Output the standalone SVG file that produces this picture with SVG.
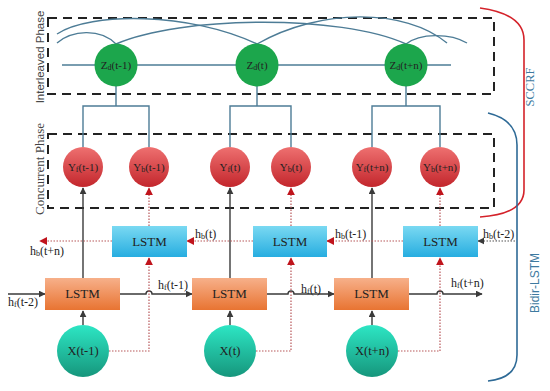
<svg xmlns="http://www.w3.org/2000/svg" width="550" height="391" viewBox="0 0 550 391">
<defs>
<linearGradient id="gRed" x1="0" y1="0" x2="0" y2="1"><stop offset="0" stop-color="#ee7070"/><stop offset="1" stop-color="#c3262c"/></linearGradient>
<linearGradient id="gTeal" x1="0" y1="0" x2="0" y2="1"><stop offset="0" stop-color="#2de6c4"/><stop offset="1" stop-color="#16967c"/></linearGradient>
<linearGradient id="gBlue" x1="0" y1="0" x2="0" y2="1"><stop offset="0" stop-color="#7ad9f2"/><stop offset="1" stop-color="#27ade0"/></linearGradient>
<linearGradient id="gOrange" x1="0" y1="0" x2="0" y2="1"><stop offset="0" stop-color="#f7b08a"/><stop offset="1" stop-color="#e87432"/></linearGradient>
<marker id="aGrey" viewBox="0 0 10 10" refX="9" refY="5" markerWidth="7" markerHeight="7" orient="auto" markerUnits="userSpaceOnUse"><path d="M0,0 L10,5 L0,10 z" fill="#3a3a3a"/></marker>
<marker id="aRed" viewBox="0 0 10 10" refX="9" refY="5" markerWidth="8" markerHeight="8" orient="auto" markerUnits="userSpaceOnUse"><path d="M0,0 L10,5 L0,10 z" fill="#c0141c"/></marker>
</defs>
<style>
.dash{fill:none;stroke:#222;stroke-width:2;stroke-dasharray:9,6}
.conn{fill:none;stroke:#4d7c96;stroke-width:1.4}
.grey{fill:none;stroke:#3a3a3a;stroke-width:1.4}
.rdot{fill:none;stroke:#b8585a;stroke-width:1.2;stroke-dasharray:1.5,1.5}
.lbl{font-family:"Liberation Serif","DejaVu Serif",serif;fill:#222;text-anchor:middle}
.nl{font-size:11px}
.ls{font-size:13px}
.hl{font-family:"Liberation Serif","DejaVu Serif",serif;fill:#222;font-size:12px}
</style>

<rect class="dash" x="48" y="18" width="446" height="76"/>
<rect class="dash" x="48" y="134" width="446" height="74"/>

<text x="44" y="57" transform="rotate(-90 44 57)" font-family="'Liberation Sans',Arial,sans-serif" font-size="11.5" fill="#444" text-anchor="middle">Interleaved Phase</text>
<text x="44" y="169" transform="rotate(-90 44 169)" font-family="'Liberation Serif',serif" font-size="13" fill="#444" text-anchor="middle">Concurrent Phase</text>

<g id="brackets">
<path d="M480,8 Q524,14 524,40 L524,190 Q524,214 480,217" fill="none" stroke="#d4222a" stroke-width="1.6"/>
<path d="M488,113 Q517,120 517,145 L517,355 Q517,378 488,381" fill="none" stroke="#2e6a96" stroke-width="1.6"/>
<text x="534" y="87" transform="rotate(-90 534 87)" font-family="'Liberation Serif',serif" font-size="12.5" fill="#3e7aa0" text-anchor="middle">SCCRF</text>
<text x="539" y="283" transform="rotate(-90 539 283)" font-family="'Liberation Sans',Arial,sans-serif" font-size="12" fill="#3e7aa0" text-anchor="middle">Bidir-LSTM</text>
</g>

<g id="connectors">
<path class="conn" d="M62,65 L451,65"/>
<path class="conn" d="M57,34 C90,12 190,12 257,44"/>
<path class="conn" d="M57,43 C72,30 100,28 116,44"/>
<path class="conn" d="M116,44 C180,16 340,14 406,44"/>
<path class="conn" d="M257,44 C320,8 405,8 447,43"/>
<path class="conn" d="M406,44 C420,33 450,33 467,43"/>
<path class="conn" d="M116,86 V106 M83,147 V106 H149 V147"/>
<path class="conn" d="M257,86 V106 M230,147 V106 H291 V147"/>
<path class="conn" d="M406,86 V106 M372,147 V106 H440 V147"/>

<path class="grey" d="M83,278 V188" marker-end="url(#aGrey)"/>
<path class="grey" d="M230,278 V188" marker-end="url(#aGrey)"/>
<path class="grey" d="M372,278 V188" marker-end="url(#aGrey)"/>
<path class="grey" d="M83,325 V311" marker-end="url(#aGrey)"/>
<path class="grey" d="M230,325 V311" marker-end="url(#aGrey)"/>
<path class="grey" d="M372,325 V311" marker-end="url(#aGrey)"/>

<path class="grey" d="M8,294 H45" marker-end="url(#aGrey)"/>
<path class="grey" d="M120,294 H146 A3,3 0 0 1 152,294 H192" marker-end="url(#aGrey)"/>
<path class="grey" d="M267,294 H288 A3,3 0 0 1 294,294 H334" marker-end="url(#aGrey)"/>
<path class="grey" d="M409,294 H437 A3,3 0 0 1 443,294 H482" marker-end="url(#aGrey)"/>

<path class="rdot" d="M109,351 H149 V258" marker-end="url(#aRed)"/>
<path class="rdot" d="M256,351 H291 V258" marker-end="url(#aRed)"/>
<path class="rdot" d="M398,351 H440 V258" marker-end="url(#aRed)"/>
<path class="rdot" d="M149,226 V188" marker-end="url(#aRed)"/>
<path class="rdot" d="M291,226 V188" marker-end="url(#aRed)"/>
<path class="rdot" d="M440,226 V188" marker-end="url(#aRed)"/>

<path class="rdot" d="M112,241 H40" marker-end="url(#aRed)"/>
<path class="rdot" d="M253,241 H187" marker-end="url(#aRed)"/>
<path class="rdot" d="M403,241 H327" marker-end="url(#aRed)"/>
<path d="M515,241 H478" fill="none" stroke="#555" stroke-width="1.2" stroke-dasharray="1.5,1.5" marker-end="url(#aGrey)"/>
</g>

<g id="labels">
<text class="hl" x="30" y="255">h<tspan font-size="8" dy="1">b</tspan><tspan dy="-1">(t+n)</tspan></text>
<text class="hl" x="195" y="238">h<tspan font-size="8" dy="1">b</tspan><tspan dy="-1">(t)</tspan></text>
<text class="hl" x="335" y="238">h<tspan font-size="8" dy="1">b</tspan><tspan dy="-1">(t-1)</tspan></text>
<text class="hl" x="483" y="238">h<tspan font-size="8" dy="1">b</tspan><tspan dy="-1">(t-2)</tspan></text>
<text class="hl" x="8" y="306">h<tspan font-size="8" dy="1">f</tspan><tspan dy="-1">(t-2)</tspan></text>
<text class="hl" x="158" y="289">h<tspan font-size="8" dy="1">f</tspan><tspan dy="-1">(t-1)</tspan></text>
<text class="hl" x="301" y="293">h<tspan font-size="8" dy="1">f</tspan><tspan dy="-1">(t)</tspan></text>
<text class="hl" x="451" y="287">h<tspan font-size="8" dy="1">f</tspan><tspan dy="-1">(t+n)</tspan></text>
</g>

<g id="Z1"><circle cx="116" cy="65" r="21.5" fill="#1ca64c"/><text class="lbl nl" x="116" y="69">Z<tspan font-size="8" dy="1">d</tspan><tspan dy="-1">(t-1)</tspan></text></g>
<g id="Z2"><circle cx="257" cy="65" r="21.5" fill="#1ca64c"/><text class="lbl nl" x="257" y="69">Z<tspan font-size="8" dy="1">d</tspan><tspan dy="-1">(t)</tspan></text></g>
<g id="Z3"><circle cx="406" cy="65" r="21.5" fill="#1ca64c"/><text class="lbl nl" x="406" y="69">Z<tspan font-size="8" dy="1">d</tspan><tspan dy="-1">(t+n)</tspan></text></g>

<g id="Yf1"><circle cx="83" cy="167" r="20" fill="url(#gRed)"/><text class="lbl nl" x="83" y="171">Y<tspan font-size="8" dy="1">f</tspan><tspan dy="-1">(t-1)</tspan></text></g>
<g id="Yb1"><circle cx="149" cy="167" r="20" fill="url(#gRed)"/><text class="lbl nl" x="149" y="171">Y<tspan font-size="8" dy="1">b</tspan><tspan dy="-1">(t-1)</tspan></text></g>
<g id="Yf2"><circle cx="230" cy="167" r="20" fill="url(#gRed)"/><text class="lbl nl" x="230" y="171">Y<tspan font-size="8" dy="1">f</tspan><tspan dy="-1">(t)</tspan></text></g>
<g id="Yb2"><circle cx="291" cy="167" r="20" fill="url(#gRed)"/><text class="lbl nl" x="291" y="171">Y<tspan font-size="8" dy="1">b</tspan><tspan dy="-1">(t)</tspan></text></g>
<g id="Yf3"><circle cx="372" cy="167" r="20" fill="url(#gRed)"/><text class="lbl nl" x="372" y="171">Y<tspan font-size="8" dy="1">f</tspan><tspan dy="-1">(t+n)</tspan></text></g>
<g id="Yb3"><circle cx="440" cy="167" r="20" fill="url(#gRed)"/><text class="lbl nl" x="440" y="171">Y<tspan font-size="8" dy="1">b</tspan><tspan dy="-1">(t+n)</tspan></text></g>

<g id="B1"><rect x="112" y="226" width="75" height="31" fill="url(#gBlue)"/><text class="lbl ls" x="149.5" y="246">LSTM</text></g>
<g id="B2"><rect x="253" y="226" width="74" height="31" fill="url(#gBlue)"/><text class="lbl ls" x="290" y="246">LSTM</text></g>
<g id="B3"><rect x="403" y="226" width="75" height="31" fill="url(#gBlue)"/><text class="lbl ls" x="440.5" y="246">LSTM</text></g>

<g id="F1"><rect x="45" y="278" width="75" height="32" fill="url(#gOrange)"/><text class="lbl ls" x="82.5" y="298">LSTM</text></g>
<g id="F2"><rect x="192" y="278" width="75" height="32" fill="url(#gOrange)"/><text class="lbl ls" x="229.5" y="298">LSTM</text></g>
<g id="F3"><rect x="334" y="278" width="75" height="32" fill="url(#gOrange)"/><text class="lbl ls" x="371.5" y="298">LSTM</text></g>

<g id="X1"><circle cx="83" cy="351" r="26" fill="url(#gTeal)"/><text class="lbl" font-size="12.5" x="83" y="355">X(t-1)</text></g>
<g id="X2"><circle cx="230" cy="351" r="26" fill="url(#gTeal)"/><text class="lbl" font-size="12.5" x="230" y="355">X(t)</text></g>
<g id="X3"><circle cx="372" cy="351" r="26" fill="url(#gTeal)"/><text class="lbl" font-size="12.5" x="372" y="355">X(t+n)</text></g>
</svg>
